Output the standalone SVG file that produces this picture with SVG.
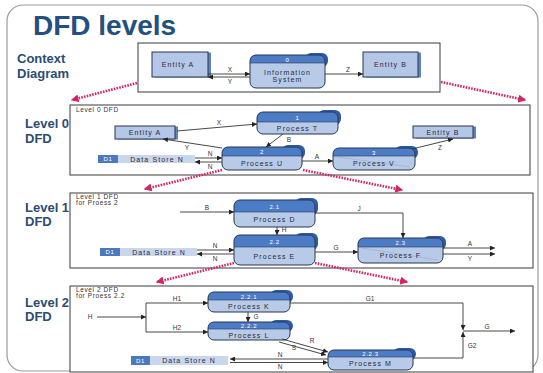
<svg xmlns="http://www.w3.org/2000/svg" width="543" height="373" viewBox="0 0 543 373">
<style>
text{font-family:"Liberation Sans",Arial,sans-serif}
.ttl{font-size:28px;font-weight:bold;fill:#23507F}
.lvl{font-size:13px;font-weight:bold;fill:#2A4D74}
.frame{fill:#fff;stroke:#9a9a9a;stroke-width:1.2}
.box{fill:#fff;stroke:#3a3a3a;stroke-width:1}
.cap{font-size:6.5px;fill:#333;letter-spacing:0.6px}
.hd{fill:#4D7CC6}
.body{fill:#B7CBE8}
.out{fill:none;stroke:#2A3550;stroke-width:1}
.shd{fill:#2D5BA8}
.ent{fill:#B4C7E6;stroke:#2A3550;stroke-width:1}
.esh{fill:#5F82C0}
.ht{font-size:6px;fill:#fff;text-anchor:middle;letter-spacing:0.6px}
.bt{font-size:7px;fill:#2a2a3a;text-anchor:middle;letter-spacing:1.1px}
.ds1{fill:#4C78BE}
.ds2{fill:#C9D7EC}
.lb{font-size:6.5px;fill:#333;text-anchor:middle}
.fl{fill:none;stroke:#333;stroke-width:0.9;marker-end:url(#ar)}
.ln{fill:none;stroke:#333;stroke-width:0.9}
.pk{fill:none;stroke:#D4246A;stroke-width:2.6;stroke-dasharray:1.6 1.2;marker-end:url(#pa)}
</style>
<defs>
<marker id="ar" viewBox="0 0 6 6" refX="6" refY="3" markerWidth="5" markerHeight="5" orient="auto" markerUnits="userSpaceOnUse"><path d="M0,0 L6,3 L0,6 Z" fill="#222"/></marker>
<marker id="pa" viewBox="0 0 6 6" refX="5" refY="3" markerWidth="8" markerHeight="8" orient="auto" markerUnits="userSpaceOnUse"><path d="M0,0 L6,3 L0,6 Z" fill="#D4246A"/></marker>
</defs>

<rect class="frame" x="7" y="5" width="531" height="366" rx="16"/>
<text class="ttl" x="33" y="35">DFD levels</text>
<text class="lvl" x="17" y="63">Context</text>
<text class="lvl" x="17" y="78">Diagram</text>
<text class="lvl" x="25" y="128">Level 0</text>
<text class="lvl" x="25" y="143">DFD</text>
<text class="lvl" x="25" y="212">Level 1</text>
<text class="lvl" x="25" y="226">DFD</text>
<text class="lvl" x="25" y="307">Level 2</text>
<text class="lvl" x="25" y="321">DFD</text>

<rect class="box" x="138" y="43" width="302" height="49" stroke-width="1.2"/>
<rect class="box" x="70" y="105" width="460" height="70"/>
<text class="cap" x="76" y="112">Level 0 DFD</text>
<rect class="box" x="70" y="193" width="463" height="75"/>
<text class="cap" x="76" y="199">Level 1 DFD</text>
<text class="cap" x="76" y="205">for Proess 2</text>
<rect class="box" x="70" y="286" width="463" height="86"/>
<text class="cap" x="76" y="292">Level 2 DFD</text>
<text class="cap" x="76" y="298">for Proess 2.2</text>

<!-- context -->
<g id="ctx-entity-a"><rect class="esh" x="155" y="52.5" width="56" height="25"/><rect class="ent" x="152" y="52" width="56" height="25"/><text class="bt" x="178" y="67">Entity A</text></g>
<g id="ctx-process-0"><rect class="shd" x="305" y="53" width="23" height="14" rx="6"/><rect class="body" x="250" y="55" width="75" height="33" rx="6"/><path class="hd" d="M250,63 V61 Q250,55 256,55 H319 Q325,55 325,61 V63 Z"/><rect class="out" x="250" y="55" width="75" height="33" rx="6"/><line x1="250" y1="63" x2="325" y2="63" stroke="#2A3550" stroke-width="0.6"/><text class="ht" x="287.5" y="61.5">0</text><text class="bt" x="287.5" y="75">Information</text><text class="bt" x="287.5" y="82">System</text></g>
<g id="ctx-entity-b"><rect class="esh" x="366" y="52.5" width="55" height="25"/><rect class="ent" x="363" y="52" width="55" height="25"/><text class="bt" x="390.5" y="67">Entity B</text></g>

<!-- level 0 -->
<g id="l0-entity-a"><rect class="esh" x="118" y="126.5" width="60" height="13"/><rect class="ent" x="115" y="126" width="60" height="13"/><text class="bt" x="145" y="135">Entity A</text></g>
<g id="l0-process-1"><rect class="shd" x="318" y="110" width="23" height="15" rx="6"/><rect class="body" x="257" y="112" width="81" height="22" rx="6"/><path class="hd" d="M257,122 V118 Q257,112 263,112 H332 Q338,112 338,118 V122 Z"/><rect class="out" x="257" y="112" width="81" height="22" rx="6"/><line x1="257" y1="122" x2="338" y2="122" stroke="#2A3550" stroke-width="0.6"/><text class="ht" x="297.5" y="119.5">1</text><text class="bt" x="297.5" y="131">Process T</text></g>
<g id="l0-process-2"><rect class="shd" x="282" y="145" width="23" height="14" rx="6"/><rect class="body" x="222" y="147" width="80" height="23" rx="6"/><path class="hd" d="M222,156 V153 Q222,147 228,147 H296 Q302,147 302,153 V156 Z"/><rect class="out" x="222" y="147" width="80" height="23" rx="6"/><line x1="222" y1="156" x2="302" y2="156" stroke="#2A3550" stroke-width="0.6"/><text class="ht" x="262" y="154">2</text><text class="bt" x="262" y="166">Process U</text></g>
<g id="l0-process-3"><rect class="shd" x="395" y="146" width="23" height="13" rx="6"/><rect class="body" x="333" y="148" width="82" height="22" rx="6"/><path class="hd" d="M333,156 V154 Q333,148 339,148 H409 Q415,148 415,154 V156 Z"/><rect class="out" x="333" y="148" width="82" height="22" rx="6"/><line x1="333" y1="156" x2="415" y2="156" stroke="#2A3550" stroke-width="0.6"/><line x1="338" y1="157" x2="410" y2="167" stroke="#8899bb" stroke-width="0.4"/><text class="ht" x="374" y="154.5">3</text><text class="bt" x="374" y="166">Process V</text></g>
<g id="l0-entity-b"><rect class="esh" x="416" y="126.5" width="60" height="12"/><rect class="ent" x="413" y="126" width="60" height="12"/><text class="bt" x="443" y="134.5">Entity B</text></g>
<g id="l0-datastore"><rect class="ds2" x="98" y="155" width="97" height="8"/><rect class="ds1" x="98" y="155" width="20" height="8"/><text class="ht" x="108" y="161.3">D1</text><text class="bt" x="157" y="161.5">Data Store N</text></g>

<!-- level 1 -->
<g id="l1-process-21"><rect class="shd" x="295" y="198" width="23" height="17" rx="6"/><rect class="body" x="234" y="200" width="81" height="27" rx="6"/><path class="hd" d="M234,212 V206 Q234,200 240,200 H309 Q315,200 315,206 V212 Z"/><rect class="out" x="234" y="200" width="81" height="27" rx="6"/><line x1="234" y1="212" x2="315" y2="212" stroke="#2A3550" stroke-width="0.6"/><text class="ht" x="274.5" y="208.5">2.1</text><text class="bt" x="274.5" y="222">Process D</text></g>
<g id="l1-process-22"><rect class="shd" x="295" y="233" width="23" height="17" rx="6"/><rect class="body" x="234" y="235" width="81" height="30" rx="6"/><path class="hd" d="M234,247 V241 Q234,235 240,235 H309 Q315,235 315,241 V247 Z"/><rect class="out" x="234" y="235" width="81" height="30" rx="6"/><line x1="234" y1="247" x2="315" y2="247" stroke="#2A3550" stroke-width="0.6"/><text class="ht" x="274.5" y="244">2.2</text><text class="bt" x="274.5" y="259">Process E</text></g>
<g id="l1-process-23"><rect class="shd" x="423" y="236" width="23" height="14" rx="6"/><rect class="body" x="358" y="238" width="85" height="25" rx="6"/><path class="hd" d="M358,247 V244 Q358,238 364,238 H437 Q443,238 443,244 V247 Z"/><rect class="out" x="358" y="238" width="85" height="25" rx="6"/><line x1="358" y1="247" x2="443" y2="247" stroke="#2A3550" stroke-width="0.6"/><line x1="362" y1="248" x2="438" y2="260" stroke="#8899bb" stroke-width="0.4"/><text class="ht" x="400.5" y="245">2.3</text><text class="bt" x="400.5" y="258">Process F</text></g>
<g id="l1-datastore"><rect class="ds2" x="100" y="248" width="97" height="8"/><rect class="ds1" x="100" y="248" width="20" height="8"/><text class="ht" x="110" y="254.3">D1</text><text class="bt" x="159" y="254.5">Data Store N</text></g>

<!-- level 2 -->
<g id="l2-process-221"><rect class="shd" x="270" y="290" width="23" height="13" rx="6"/><rect class="body" x="208" y="292" width="82" height="20" rx="6"/><path class="hd" d="M208,300 V298 Q208,292 214,292 H284 Q290,292 290,298 V300 Z"/><rect class="out" x="208" y="292" width="82" height="20" rx="6"/><line x1="208" y1="300" x2="290" y2="300" stroke="#2A3550" stroke-width="0.6"/><text class="ht" x="249" y="298.5">2.2.1</text><text class="bt" x="249" y="309">Process K</text></g>
<g id="l2-process-222"><rect class="shd" x="270" y="320" width="23" height="12" rx="6"/><rect class="body" x="208" y="322" width="82" height="18" rx="6"/><path class="hd" d="M208,329 V328 Q208,322 214,322 H284 Q290,322 290,328 V329 Z"/><rect class="out" x="208" y="322" width="82" height="18" rx="6"/><line x1="208" y1="329" x2="290" y2="329" stroke="#2A3550" stroke-width="0.6"/><text class="ht" x="249" y="328">2.2.2</text><text class="bt" x="249" y="337.5">Process L</text></g>
<g id="l2-process-223"><rect class="shd" x="393" y="348" width="23" height="12" rx="6"/><rect class="body" x="328" y="350" width="85" height="20" rx="6"/><path class="hd" d="M328,357 V356 Q328,350 334,350 H407 Q413,350 413,356 V357 Z"/><rect class="out" x="328" y="350" width="85" height="20" rx="6"/><line x1="328" y1="357" x2="413" y2="357" stroke="#2A3550" stroke-width="0.6"/><text class="ht" x="370.5" y="356">2.2.3</text><text class="bt" x="370.5" y="366">Process M</text></g>
<g id="l2-datastore"><rect class="ds2" x="131" y="356" width="97" height="9"/><rect class="ds1" x="131" y="356" width="19" height="9"/><text class="ht" x="140.5" y="362.8">D1</text><text class="bt" x="189" y="363">Data Store N</text></g>

<g id="connectors">
<!-- context -->
<line class="fl" x1="208" y1="74" x2="250" y2="74"/><text class="lb" x="230" y="72">X</text>
<line class="fl" x1="250" y1="77" x2="208" y2="77"/><text class="lb" x="230" y="84">Y</text>
<line class="fl" x1="325" y1="74" x2="363" y2="74"/><text class="lb" x="348" y="72">Z</text>
<!-- level 0 -->
<line class="fl" x1="177" y1="131" x2="257" y2="124"/><text class="lb" x="219" y="125">X</text>
<line class="fl" x1="222" y1="148" x2="163" y2="139"/><text class="lb" x="187" y="150">Y</text>
<line class="fl" x1="283" y1="134" x2="266" y2="147"/><text class="lb" x="289" y="142">B</text>
<line class="fl" x1="195" y1="158" x2="222" y2="158"/><text class="lb" x="210" y="156">N</text>
<line class="fl" x1="222" y1="162" x2="195" y2="162"/><text class="lb" x="210" y="168.5">N</text>
<line class="fl" x1="302" y1="161" x2="333" y2="161"/><text class="lb" x="317" y="158.5">A</text>
<line class="fl" x1="412" y1="149" x2="453" y2="139"/><text class="lb" x="440" y="150">Z</text>
<!-- level 1 -->
<line class="fl" x1="180" y1="212" x2="234" y2="212"/><text class="lb" x="207" y="210">B</text>
<polyline class="fl" points="315,213 403,213 403,238"/><text class="lb" x="359" y="210.5">J</text>
<line class="fl" x1="277" y1="227" x2="277" y2="235"/><text class="lb" x="284" y="232">H</text>
<line class="fl" x1="197" y1="250" x2="234" y2="250"/><text class="lb" x="215" y="248">N</text>
<line class="fl" x1="234" y1="254" x2="197" y2="254"/><text class="lb" x="215" y="260.5">N</text>
<line class="fl" x1="315" y1="252" x2="358" y2="252"/><text class="lb" x="336" y="250">G</text>
<line class="fl" x1="443" y1="248" x2="495" y2="248"/><text class="lb" x="470" y="246">A</text>
<line class="fl" x1="443" y1="254" x2="495" y2="254"/><text class="lb" x="470" y="260.5">Y</text>
<!-- level 2 -->
<text class="lb" x="90" y="319">H</text>
<line class="fl" x1="97" y1="317" x2="146" y2="317"/>
<line class="ln" x1="146" y1="303" x2="146" y2="332"/>
<line class="fl" x1="146" y1="303" x2="208" y2="303"/><text class="lb" x="177" y="300.5">H1</text>
<line class="fl" x1="146" y1="332" x2="208" y2="332"/><text class="lb" x="177" y="329.5">H2</text>
<line class="fl" x1="248" y1="312" x2="248" y2="322"/><text class="lb" x="256" y="319">G</text>
<polyline class="fl" points="290,303 463,303 463,330"/><text class="lb" x="370" y="300.5">G1</text>
<polyline class="fl" points="413,358 463,358 463,332"/><text class="lb" x="472" y="348">G2</text>
<line class="fl" x1="463" y1="331" x2="515" y2="331"/><text class="lb" x="487" y="328.5">G</text>
<line class="fl" x1="282" y1="339" x2="328" y2="352"/><text class="lb" x="312" y="343">R</text>
<line class="fl" x1="279" y1="342" x2="326" y2="355"/><text class="lb" x="294" y="350">S</text>
<line class="fl" x1="328" y1="359" x2="230" y2="359"/><text class="lb" x="280" y="357">N</text>
<line class="fl" x1="230" y1="362.5" x2="328" y2="362.5"/><text class="lb" x="280" y="369">N</text>
<!-- level links -->
<line class="pk" x1="137" y1="83" x2="72" y2="100"/>
<line class="pk" x1="441" y1="82" x2="525" y2="100"/>
<line class="pk" x1="222" y1="170" x2="145" y2="189"/>
<line class="pk" x1="303" y1="170" x2="402" y2="190"/>
<line class="pk" x1="234" y1="263" x2="157" y2="282"/>
<line class="pk" x1="315" y1="263" x2="407" y2="282"/>
</g>
</svg>
